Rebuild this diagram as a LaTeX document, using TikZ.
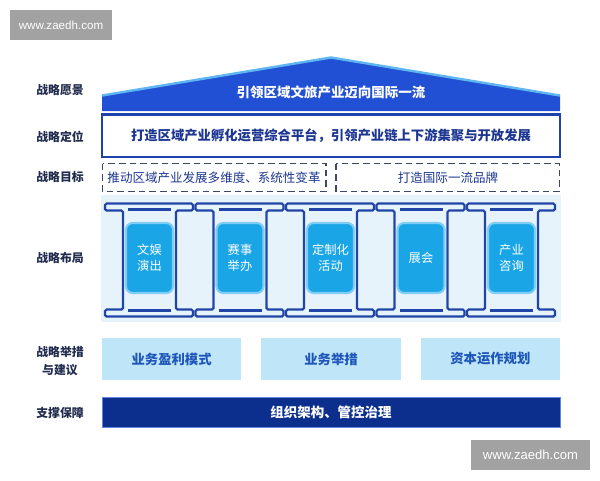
\documentclass[tikz,border=0pt]{standalone}
\usepackage{fontspec}
\newfontfamily\cjk{Noto Sans CJK SC}
\newfontfamily\markfont{Liberation Sans}
\definecolor{roofblue}{RGB}{34,80,212}
\definecolor{roofedge}{RGB}{95,182,240}
\definecolor{frameblue}{RGB}{30,66,172}
\definecolor{textnavy}{RGB}{28,54,145}
\definecolor{labeldark}{RGB}{34,44,78}
\definecolor{dashgray}{RGB}{62,72,100}
\definecolor{panelblue}{RGB}{230,243,251}
\definecolor{pillarblue}{RGB}{33,68,168}
\definecolor{cellblue}{RGB}{26,166,230}
\definecolor{celledge}{RGB}{128,206,245}
\definecolor{actblue}{RGB}{191,229,248}
\definecolor{acttext}{RGB}{30,86,186}
\definecolor{basenavy}{RGB}{12,46,140}
\definecolor{markgray}{RGB}{162,162,162}
\begin{document}
\begin{tikzpicture}[x=0.75pt,y=0.75pt,yscale=-1,
  sidelabel/.style={font=\cjk\bfseries\fontsize{8.9}{13.5}\selectfont,text=labeldark,align=center,inner sep=0.75pt},
  goalbox/.style={draw=dashgray,line width=1.1pt,dash pattern=on 5pt off 3pt},
  goaltext/.style={font=\cjk\fontsize{9.4}{11}\selectfont,text=textnavy,inner sep=0.75pt},
  pillar/.style={draw=pillarblue,line width=1.7pt,rounded corners=1.2pt},
  cellbox/.style={fill=cellblue,draw=celledge,line width=1.6pt,rounded corners=5pt},
  celltext/.style={font=\cjk\fontsize{9.2}{12}\selectfont,text=white,align=center,inner sep=0.75pt},
  actbox/.style={fill=actblue},
  acttxt/.style={font=\cjk\bfseries\fontsize{10}{12}\selectfont,text=acttext,inner sep=0.75pt},
  marktext/.style={font=\markfont,text=white,inner sep=0.75pt}]
\useasboundingbox (0,0) rectangle (600,480);

%Shape: Rectangle [watermark top]
\fill[markgray] (10,10) rectangle (112,40);
% Text Node
\node[marktext,font=\markfont\fontsize{8.7}{10}\selectfont] (marktop) at (61,25) {www.zaedh.com};
%Shape: Rectangle [watermark bottom]
\fill[markgray] (471,440) rectangle (590,470);
% Text Node
\node[marktext,font=\markfont\fontsize{9.8}{11}\selectfont] (markbottom) at (530.5,455) {www.zaedh.com};

% Text Node
\node[sidelabel] (lblvision) at (60,90.5) {战略愿景};
% Text Node
\node[sidelabel] (lblposition) at (60,136.5) {战略定位};
% Text Node
\node[sidelabel] (lblgoal) at (60,177) {战略目标};
% Text Node
\node[sidelabel] (lbllayout) at (60,258) {战略布局};
% Text Node
\node[sidelabel] (lblaction) at (60,361) {战略举措\\与建议};
% Text Node
\node[sidelabel] (lblsupport) at (60,413) {支撑保障};

%Shape: Roof
\fill[roofblue] (102,111) -- (102,95) -- (331,57) -- (560,95) -- (560,111) -- cycle;
\draw[roofedge,line width=1.8pt] (102,95.5) -- (331,57.5) -- (560,95.5);
% Text Node
\node[font=\cjk\bfseries\fontsize{10.1}{12}\selectfont,text=white,inner sep=0.75pt] (vision) at (331,92) {引领区域文旅产业迈向国际一流};

%Shape: Rectangle [positioning]
\draw[frameblue,line width=1.6pt,fill=white] (102,114.5) rectangle (560,157);
% Text Node
\node[font=\cjk\bfseries\fontsize{10}{12}\selectfont,text=textnavy,inner sep=0.75pt] (position) at (331,136) {打造区域产业孵化运营综合平台，引领产业链上下游集聚与开放发展};

%Shape: Rectangle [goals]
\draw[goalbox] (102.5,163.5) rectangle (326,191.5);
\draw[goalbox] (336,163.5) rectangle (559.5,191.5);
% Text Node
\node[goaltext] (goalleft) at (214,177.5) {推动区域产业发展多维度、系统性变革};
% Text Node
\node[goaltext] (goalright) at (448,177.5) {打造国际一流品牌};

%Shape: Rectangle [layout panel]
\fill[panelblue] (101,194.5) rectangle (561,321.5);

%Pillars
\foreach \i/\txt in {0/{文娱\\演出},1/{赛事\\举办},2/{定制化\\活动},3/{展会},4/{产业\\咨询}}{
  \pgfmathsetmacro\xl{105+90.5*\i}
  \pgfmathsetmacro\xr{\xl+88}
  \draw[pillar] (\xl,203.5) -- (\xr,203.5) -- (\xr,210.5) -- (\xl+71,210.5) -- (\xl+71,309.5) -- (\xr,309.5) -- (\xr,316.5) -- (\xl,316.5) -- (\xl,309.5) -- (\xl+18,309.5) -- (\xl+18,210.5) -- (\xl,210.5) -- cycle;
  \draw[pillarblue,line width=1.7pt] (\xl+23,209.5) -- (\xl+66,209.5);
  \draw[pillarblue,line width=1.7pt] (\xl+23,310.5) -- (\xl+66,310.5);
  \draw[cellbox] (\xl+21,223) rectangle (\xl+68,293);
  \node[celltext] (cell\i) at (\xl+44.5,258) {\txt};
}

%Actions
\foreach \i/\txt in {0/业务盈利模式,1/业务举措,2/资本运作规划}{
  \pgfmathsetmacro\xl{102+159.35*\i}
  \fill[actblue] (\xl,338) rectangle (\xl+139.3,380);
  \node[acttxt] (act\i) at (\xl+69.65,359) {\txt};
}

%Shape: Rectangle [support]
\draw[fill=basenavy,draw=roofblue!70!white,line width=0.5pt] (102,397) rectangle (560,427);
% Text Node
\node[font=\cjk\bfseries\fontsize{10.1}{12}\selectfont,text=white,inner sep=0.75pt] (support) at (331,412) {组织架构、管控治理};

\end{tikzpicture}
\end{document}
